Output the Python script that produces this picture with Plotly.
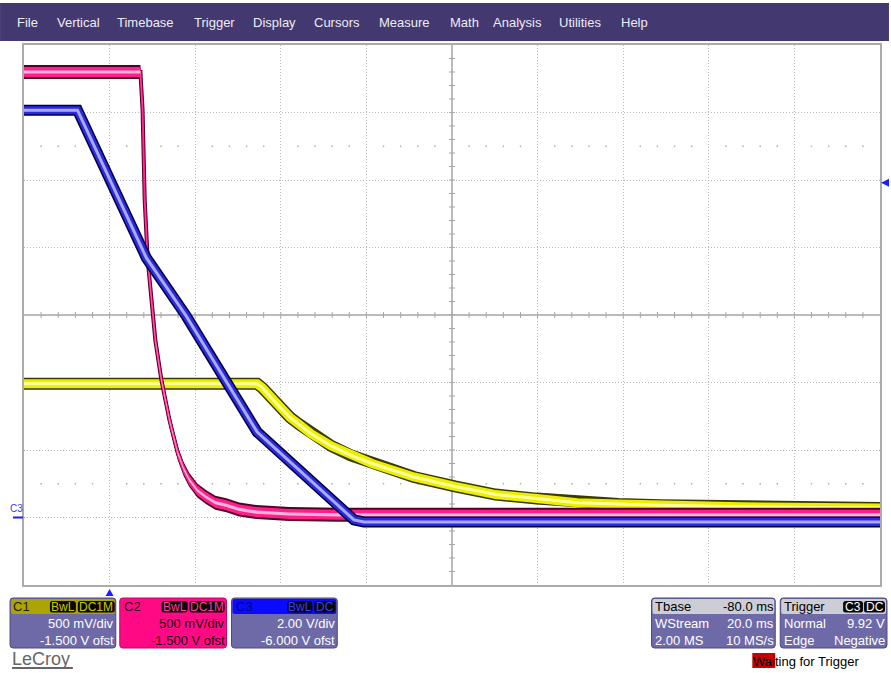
import numpy as np
import plotly.graph_objects as go

# ---------------- acquisition settings ----------------
C1_SCALE, C1_OFFSET = 0.5, -1.5     # V/div, V
C2_SCALE, C2_OFFSET = 0.5, -1.5
C3_SCALE, C3_OFFSET = 2.0, -6.0
TIME_DIV_MS = 20.0
TBASE_DELAY_MS = -80.0
TRIGGER_LEVEL_V = 9.92

# ---------------- captured waveforms (time in ms from trigger, volts) ----------------
c1_time = [-20.0, 34.5, 35.7, 36.8, 38.5, 40.3, 42.2, 44.3, 47.1, 51.8, 56.4, 61.3, 66.2, 71.1,
           80.7, 90.2, 99.8, 109.3, 118.9, 128.7, 147.8, 180.0]
c1_volts = [0.99, 0.99, 0.96, 0.92, 0.86, 0.80, 0.74, 0.69, 0.62, 0.53, 0.46, 0.40, 0.35, 0.30,
            0.23, 0.17, 0.14, 0.11, 0.10, 0.09, 0.08, 0.07]

c2_time = [-20.0, 7.2, 7.7, 8.2, 8.9, 9.8, 10.7, 12.1, 14.0, 15.9, 17.3, 18.6, 20.5, 22.6, 24.7,
           27.3, 30.3, 34.3, 42.0, 53.6, 180.0]
c2_volts = [3.30, 3.30, 3.02, 2.35, 1.91, 1.61, 1.31, 1.02, 0.72, 0.48, 0.36, 0.28, 0.20, 0.15, 0.11,
            0.09, 0.06, 0.04, 0.026, 0.02, 0.02]

c3_time = [-20.0, -7.5, 8.6, 17.9, 34.5, 57.1, 59.4, 180.0]
c3_volts = [12.07, 12.07, 7.69, 5.97, 2.53, -0.07, -0.13, -0.13]

# ---------------- page geometry (pixels) ----------------
W, H = 891, 673
GL, GR, GT, GB = 24, 882, 45, 585
DIV_PX_Y = (GB - GT) / 8.0


def fx(p):
    return (p - GL) / (GR - GL)


def fy(p):
    return (GB - p) / (GB - GT)


def vrange(scale, offset):
    return [-4 * scale - offset, 4 * scale - offset]


t_center = -TBASE_DELAY_MS
x_range = [t_center - 5 * TIME_DIV_MS, t_center + 5 * TIME_DIV_MS]

fig = go.Figure()


def line_layers(t, v, yaxis, layers):
    for color, width in layers:
        fig.add_trace(go.Scatter(x=t, y=v, yaxis=yaxis, mode="lines",
                                 line=dict(color=color, width=width),
                                 hoverinfo="skip", showlegend=False))


def band(t, v, yaxis, half, color):
    t = np.asarray(t, float)
    v = np.asarray(v, float)
    xs = np.concatenate([t, t[::-1]])
    ys = np.concatenate([v + half, (v - half)[::-1]])
    fig.add_trace(go.Scatter(x=xs, y=ys, yaxis=yaxis, mode="lines", fill="toself",
                             fillcolor=color, line=dict(width=0, color=color),
                             hoverinfo="skip", showlegend=False))


# C1 (yellow)
line_layers(c1_time, c1_volts, "y", [("#3a3a00", 12), ("#eeee00", 9), ("#ffff9c", 3)])

# C2 (pink) drawn as a persistence band of constant vertical spread
px_v2 = C2_SCALE / DIV_PX_Y
band(c2_time, c2_volts, "y2", 7 * px_v2, "#520028")
line_layers(c2_time, c2_volts, "y2", [("#520028", 4)])
band(c2_time, c2_volts, "y2", 5 * px_v2, "#ff1f8c")
line_layers(c2_time, c2_volts, "y2", [("#ff1f8c", 2)])
band(c2_time, c2_volts, "y2", 1.6 * px_v2, "#ffb4d8")

# C3 (blue)
line_layers(c3_time, c3_volts, "y3", [("#00003c", 11), ("#2a2ae0", 8), ("#aaaaff", 3)])

shapes = []
annotations = []

# menu bar
shapes.append(dict(type="rect", xref="paper", yref="paper", x0=fx(0), x1=fx(W), y0=fy(41), y1=fy(3),
                   fillcolor="#433870", line=dict(width=0), layer="above"))
menu = [("File", 17), ("Vertical", 57), ("Timebase", 117), ("Trigger", 194), ("Display", 254),
        ("Cursors", 315), ("Measure", 380), ("Math", 451), ("Analysis", 494), ("Utilities", 560),
        ("Help", 622)]
FONT = "Liberation Sans, Arial, sans-serif"
for label, xp in menu:
    annotations.append(dict(text=label, xref="paper", yref="paper", x=fx(xp - 2), y=fy(22),
                            xanchor="left", yanchor="middle", showarrow=False,
                            font=dict(family=FONT, size=13, color="#ececf4")))

# centre cross with minor ticks
xc = (GL + GR) / 2
yc = (GT + GB) / 2
shapes.append(dict(type="line", xref="paper", yref="paper", x0=0, x1=1, y0=0.5, y1=0.5,
                   line=dict(color="#a4a4a4", width=1.5), layer="below"))
shapes.append(dict(type="line", xref="paper", yref="paper", x0=0.5, x1=0.5, y0=0, y1=1,
                   line=dict(color="#a4a4a4", width=1.5), layer="below"))
step_x = (GR - GL) / 50.0
step_y = (GB - GT) / 40.0
for i in range(1, 50):
    xp = GL + i * step_x
    shapes.append(dict(type="line", xref="paper", yref="paper", x0=fx(xp), x1=fx(xp),
                       y0=fy(yc - 3), y1=fy(yc + 3), line=dict(color="#a4a4a4", width=1), layer="below"))
for i in range(1, 40):
    yp = GT + i * step_y
    shapes.append(dict(type="line", xref="paper", yref="paper", x0=fx(xc - 3), x1=fx(xc + 3),
                       y0=fy(yp), y1=fy(yp), line=dict(color="#a4a4a4", width=1), layer="below"))

# dotted rows at +/-2.5 div
for yrow in (yc - 2.5 * DIV_PX_Y, yc + 2.5 * DIV_PX_Y):
    for i in range(1, 50):
        if i % 5 == 0:
            continue
        xp = GL + i * step_x
        shapes.append(dict(type="rect", xref="paper", yref="paper", x0=fx(xp - 0.7), x1=fx(xp + 0.7),
                           y0=fy(yrow + 0.7), y1=fy(yrow - 0.7), fillcolor="#a8a8a8",
                           line=dict(width=0), layer="below"))

# trigger level marker (right edge) and trigger position marker (bottom)
lv = C3_SCALE * 4.0 / DIV_PX_Y
shapes.append(dict(type="path", xref="paper", yref="y3",
                   path=f"M {fx(883)},{TRIGGER_LEVEL_V} L {fx(891)},{TRIGGER_LEVEL_V + lv} "
                        f"L {fx(891)},{TRIGGER_LEVEL_V - lv} Z",
                   fillcolor="#1e1eff", line=dict(width=0)))
half_t = 4.0 * TIME_DIV_MS / ((GR - GL) / 10.0)
shapes.append(dict(type="path", xref="x", yref="paper",
                   path=f"M 0,{fy(589)} L {half_t},{fy(596)} L {-half_t},{fy(596)} Z",
                   fillcolor="#1e1eff", line=dict(width=0)))

# C3 ground marker (left edge)
shapes.append(dict(type="line", xref="paper", yref="y3", x0=fx(13), x1=fx(23), y0=0, y1=0,
                   line=dict(color="#1e1eff", width=2)))
annotations.append(dict(text="C3", xref="paper", yref="y3", x=fx(16), y=0, yshift=2,
                        xanchor="center", yanchor="bottom", showarrow=False,
                        font=dict(family=FONT, size=10, color="#3c3cff")))


def rrect(x0, y0, x1, y1, r, fill, line_color=None, lw=0):
    p = (f"M {fx(x0 + r)},{fy(y0)} L {fx(x1 - r)},{fy(y0)} Q {fx(x1)},{fy(y0)} {fx(x1)},{fy(y0 + r)} "
         f"L {fx(x1)},{fy(y1 - r)} Q {fx(x1)},{fy(y1)} {fx(x1 - r)},{fy(y1)} "
         f"L {fx(x0 + r)},{fy(y1)} Q {fx(x0)},{fy(y1)} {fx(x0)},{fy(y1 - r)} "
         f"L {fx(x0)},{fy(y0 + r)} Q {fx(x0)},{fy(y0)} {fx(x0 + r)},{fy(y0)} Z")
    shapes.append(dict(type="path", xref="paper", yref="paper", path=p, fillcolor=fill,
                       line=dict(color=line_color or fill, width=lw)))


def text(s, xp, yp, anchor="left", size=13, color="#ffffff", family=FONT):
    annotations.append(dict(text=s, xref="paper", yref="paper", x=fx(xp), y=fy(yp),
                            xanchor=anchor, yanchor="middle", showarrow=False,
                            font=dict(family=family, size=size, color=color)))


def tag(s, x0, x1, color):
    rrect(x0, 601, x1, 612.5, 2.5, "#080808")
    text(s, (x0 + x1) / 2, 606.5, anchor="center", size=12, color=color)


BODY = "#6e6aa8"
EDGE = "#4c4884"
ROW1, ROW2, ROW3 = 606.5, 623, 640

# C1 descriptor
rrect(10, 598, 116, 648, 3, BODY, EDGE, 1)
rrect(11, 599, 115, 614, 2, "#aca400")
text("C1", 11, ROW1, color="#1c1c00")
tag("BwL", 50, 76, "#cfc700")
tag("DC1M", 78, 115, "#cfc700")
text("500 mV/div", 116, ROW2, anchor="right")
text("-1.500 V ofst", 116, ROW3, anchor="right")

# C2 descriptor
rrect(120, 598, 227, 648, 3, "#ff0a84", "#c80068", 1)
text("C2", 122, ROW1, color="#2a0016")
tag("BwL", 162, 188, "#ff3a9c")
tag("DC1M", 190, 225, "#ff3a9c")
text("500 mV/div", 227, ROW2, anchor="right", color="#1a000e")
text("-1.500 V ofst", 227, ROW3, anchor="right", color="#1a000e")

# C3 descriptor
rrect(232, 598, 338, 648, 3, BODY, EDGE, 1)
rrect(233, 599, 337, 614, 2, "#0a0aff")
text("C3", 234, ROW1, color="#00008a")
tag("BwL", 288, 313, "#3a3aff")
tag("DC", 315, 336, "#3a3aff")
text("2.00 V/div", 338, ROW2, anchor="right")
text("-6.000 V ofst", 338, ROW3, anchor="right")

# timebase descriptor
rrect(653, 598, 777, 648, 3, BODY, EDGE, 1)
rrect(654, 599, 776, 614, 2, "#cdcdd6")
text("Tbase", 654, ROW1, color="#000000")
text(f"{TBASE_DELAY_MS:.1f} ms", 778, ROW1, anchor="right", color="#000000")
text("WStream", 654, ROW2)
text(f"{TIME_DIV_MS:.1f} ms", 778, ROW2, anchor="right")
text("2.00 MS", 654, ROW3)
text("10 MS/s", 778, ROW3, anchor="right")

# trigger descriptor
rrect(782, 598, 889, 648, 3, BODY, EDGE, 1)
rrect(783, 599, 888, 614, 2, "#cdcdd6")
text("Trigger", 784, ROW1, color="#000000")
tag("C3", 845, 865, "#ffffff")
tag("DC", 866, 887, "#ffffff")
text("Normal", 784, ROW2)
text(f"{TRIGGER_LEVEL_V:.2f} V", 889, ROW2, anchor="right")
text("Edge", 784, ROW3)
text("Negative", 889, ROW3, anchor="right")

# status line
shapes.append(dict(type="rect", xref="paper", yref="paper", x0=fx(754), x1=fx(777), y0=fy(668), y1=fy(653),
                   fillcolor="#c80000", line=dict(width=0)))
text("Waiting for Trigger", 753, 661, color="#000000")

# logo
text("LeCroy", 10, 659, size=18, color="#666666")
shapes.append(dict(type="line", xref="paper", yref="paper", x0=fx(12), x1=fx(73), y0=fy(668), y1=fy(668),
                   line=dict(color="#666666", width=2)))

axis_common = dict(showticklabels=False, ticks="", zeroline=False, showline=True, mirror=True,
                   linecolor="#ababab", linewidth=1.5, showgrid=True, gridcolor="#b8b8b8",
                   griddash="1px,2px", gridwidth=1)

fig.update_layout(
    width=W, height=H, autosize=False,
    margin=dict(l=GL, r=W - GR, t=GT, b=H - GB, pad=0),
    paper_bgcolor="#ffffff", plot_bgcolor="#ffffff",
    showlegend=False,
    xaxis=dict(range=x_range, tick0=0, dtick=TIME_DIV_MS, **axis_common),
    yaxis=dict(range=vrange(C1_SCALE, C1_OFFSET), tick0=-C1_OFFSET, dtick=C1_SCALE, **axis_common),
    yaxis2=dict(range=vrange(C2_SCALE, C2_OFFSET), overlaying="y", visible=False),
    yaxis3=dict(range=vrange(C3_SCALE, C3_OFFSET), overlaying="y", visible=False),
    shapes=shapes,
    annotations=annotations,
)

fig.write_html("out.html")
